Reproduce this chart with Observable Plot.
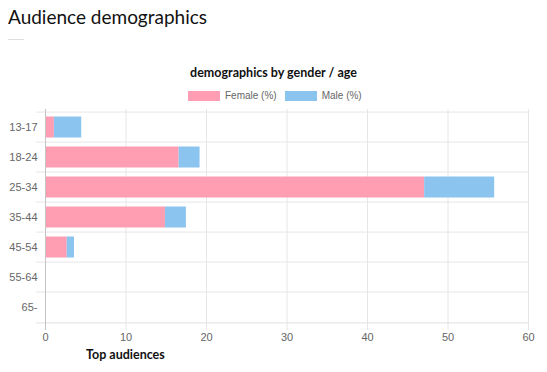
<!DOCTYPE html>
<html>
<head>
<meta charset="utf-8">
<script src="https://cdn.jsdelivr.net/npm/d3@7"></script>
<script src="https://cdn.jsdelivr.net/npm/@observablehq/plot@0.6"></script>
<style>
  html, body { margin: 0; padding: 0; background: #fff; }
  #wrap { position: relative; width: 547px; height: 372px; overflow: hidden; font-family: "Liberation Sans", Arial, sans-serif; }
  #title { position: absolute; left: 8px; top: 5px; font-family: Lato, "Open Sans", sans-serif; font-size: 19px; color: #111; }
  #rule { position: absolute; left: 8px; top: 39px; width: 16px; height: 1px; background: #ddd; }
  #ctitle { position: absolute; left: 0; width: 547px; top: 65px; text-align: center; font-family: Lato, sans-serif; font-weight: bold; font-size: 12.5px; color: #111; }
  #legend { position: absolute; left: 188px; top: 90px; font-size: 10px; color: #666; display: flex; align-items: center; }
  #legend .sw { width: 32px; height: 10px; display: inline-block; margin-right: 5px; }
  #legend .item { display: flex; align-items: center; margin-right: 8px; }
  #chart { position: absolute; left: 0; top: 100px; }
  #xlabel { position: absolute; left: 86px; top: 347px; font-family: Lato, sans-serif; font-weight: bold; font-size: 12.5px; color: #111; }
</style>
</head>
<body>
<div id="wrap">
  <div id="title">Audience demographics</div>
  <div id="rule"></div>
  <div id="ctitle">demographics by gender / age</div>
  <div id="legend"></div>
  <div id="chart"></div>
  <div id="xlabel">Top audiences</div>
</div>
<script>
const ages = ["13-17", "18-24", "25-34", "35-44", "45-54", "55-64", "65-"];
const female = [1.1, 16.6, 47.1, 14.9, 2.7, 0, 0];
const male = [3.4, 2.6, 8.7, 2.6, 0.9, 0, 0];
const seriesNames = ["Female (%)", "Male (%)"];
const seriesColors = ["#ff9db2", "#8cc4f0"];
const xTicks = [0, 10, 20, 30, 40, 50, 60];

const rows = [];
ages.forEach((a, i) => {
  rows.push({age: a, series: seriesNames[0], value: female[i]});
  rows.push({age: a, series: seriesNames[1], value: male[i]});
});

// legend
const leg = document.getElementById("legend");
seriesNames.forEach((s, i) => {
  const it = document.createElement("span");
  it.className = "item";
  it.innerHTML = `<span class="sw" style="background:${seriesColors[i]}"></span>${s}`;
  leg.appendChild(it);
});

const H = 272, mt = 9, mb = 47;
const step = (H - mt - mb) / ages.length;

const chart = Plot.plot({
  width: 547,
  height: H,
  marginTop: mt,
  marginBottom: mb,
  marginLeft: 45,
  marginRight: 19,
  style: {fontFamily: "Liberation Sans, Arial, sans-serif", fontSize: "11px", color: "#666", background: "transparent"},
  x: {domain: [0, 60], ticks: xTicks, label: null, tickSize: 0, tickPadding: 8},
  y: {domain: ages, padding: 0, label: null, tickSize: 0, tickPadding: 8},
  color: {domain: seriesNames, range: seriesColors},
  marks: [
    // vertical grid
    Plot.ruleX(xTicks, {x: d => d, stroke: "#e6e6e6", insetBottom: -5}),
    // horizontal grid at band boundaries
    Plot.ruleY(ages, {y: d => d, dy: -step / 2, x1: -1.1, x2: 60, stroke: "#e6e6e6"}),
    Plot.ruleY([ages[ages.length - 1]], {y: d => d, dy: step / 2, x1: -1.1, x2: 60, stroke: "#e0e0e0"}),
    Plot.barX(rows, Plot.stackX({y: "age", x: "value", fill: "series", insetTop: 4.5, insetBottom: 4.5, order: seriesNames})),
    Plot.ruleX([0], {stroke: "#c4c4c4", insetBottom: -5}),
    Plot.axisX({ticks: xTicks, tickSize: 0, tickPadding: 8, fill: "#666", label: null}),
    Plot.axisY({tickSize: 0, tickPadding: 8, fill: "#666", label: null})
  ]
});
document.getElementById("chart").appendChild(chart);
</script>
</body>
</html>
